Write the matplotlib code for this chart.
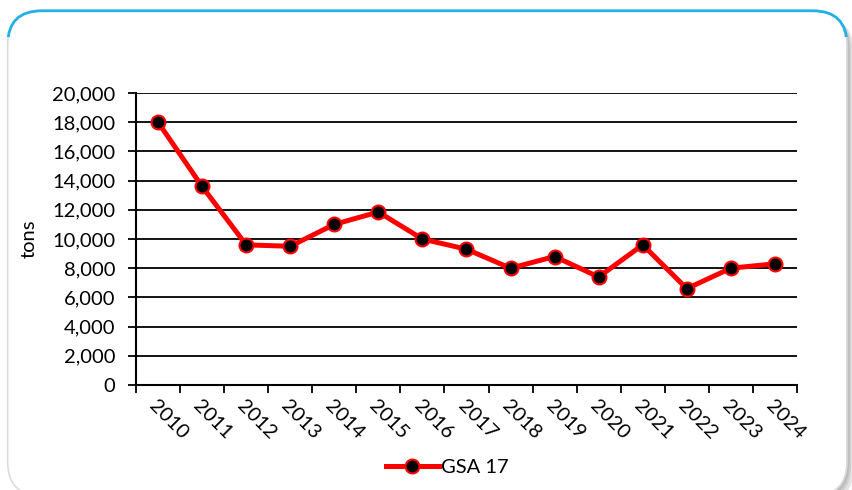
import numpy as np
import matplotlib
matplotlib.use("Agg")
import matplotlib.pyplot as plt
from matplotlib.patches import FancyBboxPatch, Rectangle
from matplotlib.ticker import FuncFormatter

years = ["2010", "2011", "2012", "2013", "2014", "2015", "2016", "2017",
         "2018", "2019", "2020", "2021", "2022", "2023", "2024"]
gsa17 = [18000, 13600, 9600, 9500, 11000, 11850, 10000, 9300,
         8000, 8800, 7400, 9600, 6600, 8000, 8300]
series_name = "GSA 17"
y_label = "tons"

plt.rcParams["font.family"] = ["Lato", "DejaVu Sans"]
FS = 14.5

fig = plt.figure(figsize=(8.52, 4.90), dpi=100)

# rounded frame with soft shadow, blue accent on top
box = dict(boxstyle="round,pad=0,rounding_size=0.04", transform=fig.transFigure,
           mutation_aspect=852 / 490)
for off, col in [(0.008, "#e4e4e4"), (0.005, "#cfcfcf"), (0.003, "#bdbdbd")]:
    fig.patches.append(FancyBboxPatch((0.009 + off, -0.012 - off * 1.7), 0.985, 0.990,
                                      facecolor=col, edgecolor="none", zorder=0, **box))
frame = FancyBboxPatch((0.009, -0.012), 0.985, 0.990, facecolor="white",
                       edgecolor="#dcdcdc", lw=1.2, zorder=1, **box)
fig.patches.append(frame)
top = FancyBboxPatch((0.009, -0.012), 0.985, 0.990, facecolor="none",
                     edgecolor="#22b0e6", lw=2.0, zorder=2, **box)
fig.patches.append(top)
top.set_clip_path(Rectangle((0, 0.925), 1, 0.1, transform=fig.transFigure))

ax = fig.add_axes([0.1596, 0.2143, 0.7758, 0.5959], zorder=3)
ax.patch.set_alpha(0)
x = np.arange(len(years))
ax.plot(x, gsa17, color="red", lw=3.6, marker="o", markersize=10,
        markerfacecolor="black", markeredgecolor="red", markeredgewidth=1.5,
        label=series_name, zorder=4, clip_on=False)

ax.set_xlim(-0.5, len(years) - 0.5)
ax.set_ylim(0, 20000)
ax.set_yticks(np.arange(0, 20001, 2000))
ax.yaxis.set_major_formatter(FuncFormatter(lambda v, p: f"{int(v):,}"))
ax.grid(axis="y", color="black", lw=1.3)
ax.set_axisbelow(True)

for s in ["top", "right"]:
    ax.spines[s].set_visible(False)
ax.spines["left"].set_linewidth(1.5)
ax.spines["bottom"].set_linewidth(1.5)

ax.tick_params(axis="y", length=6, width=1.3, labelsize=FS, pad=9, direction="out")
ax.set_xticks(x)
ax.set_xticks(np.arange(-0.5, len(years), 1), minor=True)
ax.tick_params(axis="x", which="major", length=0, pad=9)
ax.tick_params(axis="x", which="minor", length=6, width=1.3, direction="out")
ax.set_xticklabels(years, rotation=-45, ha="left", va="top", rotation_mode="anchor", fontsize=FS)

ax.set_ylabel(y_label, fontsize=FS, labelpad=10)

fig.legend(loc="center", bbox_to_anchor=(0.525, 0.045), frameon=False, fontsize=FS,
           handlelength=2.6, handletextpad=0.1)

fig.savefig("out.png", dpi=100)
